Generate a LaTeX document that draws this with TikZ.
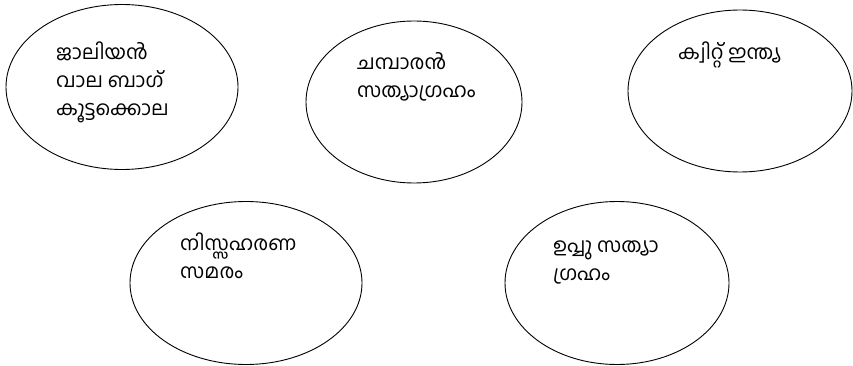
\documentclass[tikz,border=0pt]{standalone}
\usepackage{fontspec}
\newfontfamily\mlfont[Script=Malayalam]{Hind Kochi}
\usetikzlibrary{shapes.geometric}
\tikzset{
  oval/.style={draw=black, line width=0.9pt, ellipse, inner sep=0pt},
  txt/.style={anchor=north west, inner sep=0pt, align=left, font=\mlfont\fontsize{20}{28}\selectfont}
}
\begin{document}
\begin{tikzpicture}[x=1pt,y=-1pt]
\useasboundingbox (0,0) rectangle (853,366);
\node[oval, minimum width=232pt, minimum height=165pt] (e1) at (122,87) {};
\node[oval, minimum width=216pt, minimum height=162pt] (e2) at (414,102) {};
\node[oval, minimum width=224pt, minimum height=162pt] (e3) at (740,91) {};
\node[oval, minimum width=232pt, minimum height=163pt] (e4) at (246,283) {};
\node[oval, minimum width=224pt, minimum height=163pt] (e5) at (617,283) {};
\node[txt] (t1) at (56,42) {ജാലിയൻ\\വാല ബാഗ്\\കൂട്ടക്കൊല};
\node[txt] (t2) at (357,52) {ചമ്പാരൻ\\സത്യാഗ്രഹം};
\node[txt] (t3) at (678,42) {ക്വിറ്റ് ഇന്ത്യ};
\node[txt] (t4) at (180,233) {നിസ്സഹരണ\\സമരം};
\node[txt] (t5) at (553,241) {ഉപ്പു സത്യാ\\ഗ്രഹം};
\end{tikzpicture}
\end{document}
